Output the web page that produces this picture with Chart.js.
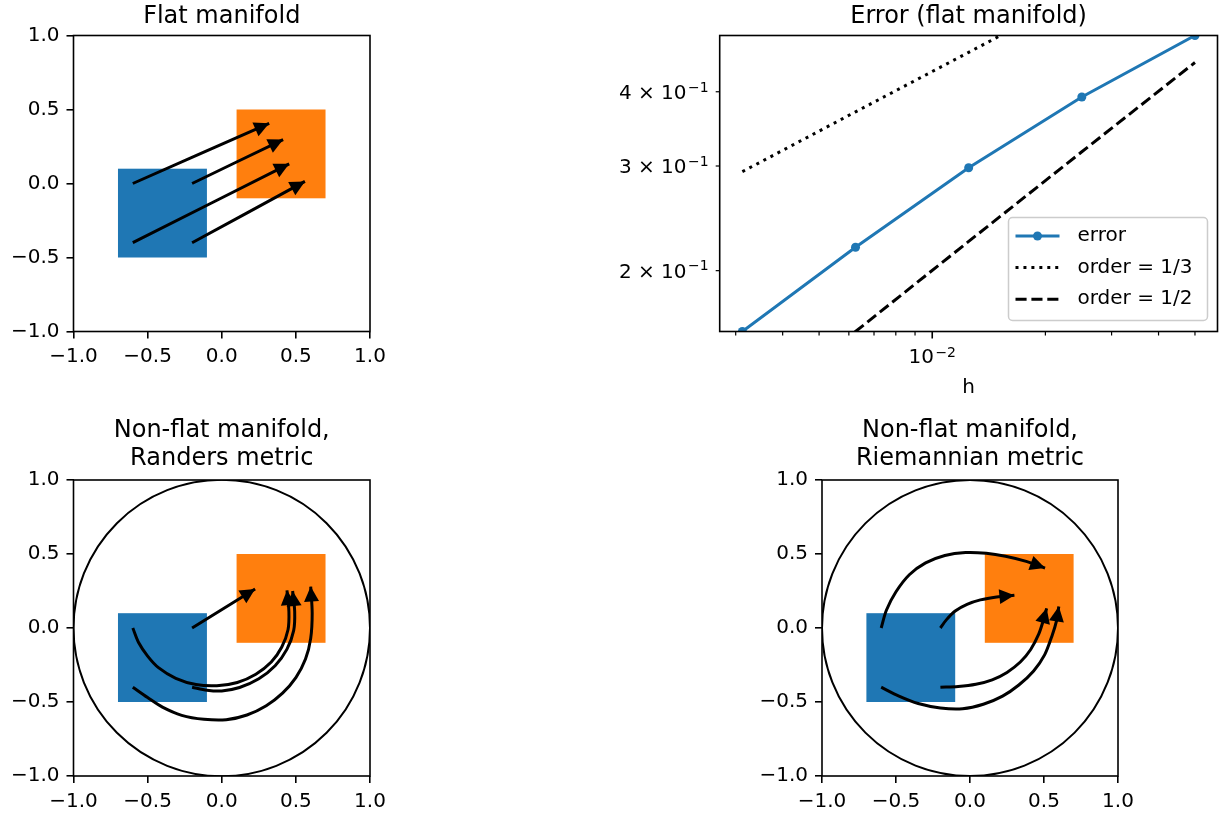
<!DOCTYPE html>
<html>
<head>
<meta charset="utf-8">
<script src="https://cdn.jsdelivr.net/npm/chart.js@4.4.1/dist/chart.umd.min.js"></script>
<style>
  html, body { margin: 0; padding: 0; background: #fff; }
  #fig { position: relative; width: 1222px; height: 813px; }
  #fig canvas { position: absolute; left: 0; top: 0; }
</style>
</head>
<body>
<div id="fig">
  <canvas id="flat" width="1222" height="813"></canvas>
  <canvas id="error" width="1222" height="813"></canvas>
  <canvas id="randers" width="1222" height="813"></canvas>
  <canvas id="riemann" width="1222" height="813"></canvas>
</div>
<script>
// ---- data -------------------------------------------------------------------
const axisTicks = [-1, -0.5, 0, 0.5, 1];
const axisTickLabels = ['\u22121.0', '\u22120.5', '0.0', '0.5', '1.0'];

// squares as [xmin, xmax, ymin, ymax]
const sourceSquare = [-0.7, -0.1, -0.5, 0.1];
const targetSquare = [0.1, 0.7, -0.1, 0.5];
// circle as [cx, cy, r]
const unitCircle = [0, 0, 1];

const flatArrows = [
  [[-0.6, 0], [0.32, 0.407]],
  [[-0.2, 0], [0.414, 0.297]],
  [[-0.6, -0.4], [0.455, 0.133]],
  [[-0.2, -0.4], [0.561, 0.014]],
];

const randersPaths = [
  [[-0.2, 0], [0.225, 0.264]],
  [[-0.6, 0], [-0.56, -0.1], [-0.5, -0.19], [-0.427, -0.268], [-0.31, -0.34], [-0.174, -0.382],
   [-0.033, -0.39], [0.105, -0.368], [0.23, -0.312], [0.334, -0.23], [0.405, -0.128],
   [0.447, -0.012], [0.453, 0.11], [0.44, 0.255]],
  [[-0.2, -0.4], [-0.1, -0.42], [0.0, -0.425], [0.12, -0.402], [0.25, -0.343], [0.36, -0.255],
   [0.44, -0.143], [0.485, -0.018], [0.492, 0.11], [0.478, 0.25]],
  [[-0.6, -0.4], [-0.5, -0.47], [-0.4, -0.535], [-0.27, -0.59], [-0.12, -0.617], [0.03, -0.62],
   [0.17, -0.588], [0.3, -0.525], [0.41, -0.44], [0.5, -0.335], [0.565, -0.21], [0.6, -0.07],
   [0.61, 0.1], [0.6, 0.28]],
];

const riemannPaths = [
  [[-0.6, 0], [-0.565, 0.12], [-0.5, 0.245], [-0.41, 0.36], [-0.3, 0.44], [-0.17, 0.49],
   [-0.03, 0.51], [0.11, 0.505], [0.24, 0.485], [0.38, 0.45], [0.507, 0.405]],
  [[-0.2, 0], [-0.16, 0.055], [-0.1, 0.115], [-0.02, 0.16], [0.07, 0.19], [0.18, 0.21], [0.3, 0.222]],
  [[-0.6, -0.4], [-0.48, -0.46], [-0.35, -0.51], [-0.2, -0.54], [-0.05, -0.545], [0.09, -0.515],
   [0.22, -0.46], [0.33, -0.385], [0.43, -0.29], [0.505, -0.18], [0.555, -0.05], [0.585, 0.05],
   [0.6, 0.145]],
  [[-0.2, -0.4], [-0.08, -0.395], [0.04, -0.38], [0.15, -0.35], [0.25, -0.3], [0.34, -0.23],
   [0.41, -0.145], [0.465, -0.04], [0.495, 0.05], [0.518, 0.133]],
];

const hValues = [0.003125, 0.00625, 0.0125, 0.025, 0.05];
const errorValues = [0.158, 0.219, 0.298, 0.392, 0.4974];
const orderThirdValues = [0.2935, 0.370, 0.466, 0.587, 0.740];
const orderHalfValues = [0.112, 0.158, 0.224, 0.317, 0.448];

const hRange = [0.00272, 0.0574];
const hTicks = [0.003, 0.004, 0.005, 0.006, 0.007, 0.008, 0.009, 0.01, 0.02, 0.03, 0.04, 0.05];
const hTickLabels = ['', '', '', '', '', '', '', '10^\u22122', '', '', '', ''];
const hMajorTicks = [0.01];
const errTicks = [0.2, 0.3, 0.4];
const errTickLabels = ['2 \u00D7 10^\u22121', '3 \u00D7 10^\u22121', '4 \u00D7 10^\u22121'];

const BLUE = '#1f77b4';
const ORANGE = '#ff7f0e';
const FONT = "'DejaVu Sans'";

Chart.defaults.font.family = FONT;
Chart.defaults.font.size = 20;
Chart.defaults.color = '#000';

// ---- plugins ----------------------------------------------------------------

// squares + circle under the datasets, arrow heads on top
const manifoldPlugin = {
  id: 'manifold',
  beforeDatasetsDraw(chart) {
    const o = chart.options.plugins.manifold;
    if (!o || !o.squares) return;
    const { ctx, chartArea: a, scales: { x, y } } = chart;
    ctx.save();
    ctx.beginPath();
    ctx.rect(a.left, a.top, a.width, a.height);
    ctx.clip();
    for (const sq of o.squares) {
      const [x0, x1, y0, y1] = sq.box;
      const l = x.getPixelForValue(x0), r = x.getPixelForValue(x1);
      const t = y.getPixelForValue(y1), b = y.getPixelForValue(y0);
      ctx.fillStyle = sq.color;
      ctx.fillRect(l, t, r - l, b - t);
    }
    if (o.circle) {
      const [cx, cy, rad] = o.circle;
      const pr = x.getPixelForValue(cx + rad) - x.getPixelForValue(cx);
      ctx.beginPath();
      ctx.arc(x.getPixelForValue(cx), y.getPixelForValue(cy), pr, 0, Math.PI * 2);
      ctx.lineWidth = 2;
      ctx.strokeStyle = '#000';
      ctx.stroke();
    }
    ctx.restore();
  },
  afterDatasetsDraw(chart) {
    const { ctx } = chart;
    ctx.save();
    chart.data.datasets.forEach((ds, i) => {
      if (!ds.arrowHead) return;
      const pts = chart.getDatasetMeta(i).data;
      const tip = pts[pts.length - 1], prev = pts[pts.length - 2];
      const ang = Math.atan2(tip.y - prev.y, tip.x - prev.x);
      const len = 15, half = 7.5;
      const bx = tip.x - len * Math.cos(ang), by = tip.y - len * Math.sin(ang);
      ctx.beginPath();
      ctx.moveTo(tip.x, tip.y);
      ctx.lineTo(bx + half * Math.sin(ang), by - half * Math.cos(ang));
      ctx.lineTo(bx - half * Math.sin(ang), by + half * Math.cos(ang));
      ctx.closePath();
      ctx.fillStyle = '#000';
      ctx.fill();
    });
    ctx.restore();
  },
};

// axes frame (all four spines)
const framePlugin = {
  id: 'frame',
  afterDraw(chart) {
    const { ctx, chartArea: a } = chart;
    ctx.save();
    ctx.strokeStyle = '#000';
    ctx.lineWidth = 1.6;
    ctx.strokeRect(a.left, a.top, a.width, a.height);
    ctx.restore();
  },
};

// titles above the axes, optional x label
const panelTitlePlugin = {
  id: 'panelTitle',
  afterDraw(chart) {
    const o = chart.options.plugins.panelTitle;
    if (!o || !o.lines) return;
    const { ctx, chartArea: a } = chart;
    const cx = (a.left + a.right) / 2;
    ctx.save();
    ctx.fillStyle = '#000';
    ctx.textAlign = 'center';
    ctx.textBaseline = 'alphabetic';
    ctx.font = `24px ${FONT}`;
    const n = o.lines.length;
    o.lines.forEach((t, i) => ctx.fillText(t, cx, a.top - o.gap - (n - 1 - i) * o.lineHeight));
    if (o.xLabel) {
      ctx.font = `20px ${FONT}`;
      ctx.fillText(o.xLabel, cx, a.bottom + o.xLabelGap);
    }
    ctx.restore();
  },
};

// draws "base^exp" with a raised, smaller exponent
function drawPowerLabel(ctx, text, x, baseline, align, rise) {
  const [base, exp] = text.split('^');
  ctx.font = `20px ${FONT}`;
  const wb = ctx.measureText(base).width;
  ctx.font = `14px ${FONT}`;
  const we = exp ? ctx.measureText(exp).width : 0;
  const total = wb + (exp ? 1.5 + we : 0);
  const left = align === 'right' ? x - total : x - total / 2;
  ctx.textAlign = 'left';
  ctx.textBaseline = 'alphabetic';
  ctx.font = `20px ${FONT}`;
  ctx.fillText(base, left, baseline);
  if (exp) {
    ctx.font = `14px ${FONT}`;
    ctx.fillText(exp, left + wb + 1.5, baseline - rise);
  }
}

// matplotlib-like major/minor tick marks and mathtext-like labels for the log axes
const logTicksPlugin = {
  id: 'logTicks',
  afterDraw(chart) {
    const o = chart.options.plugins.logTicks;
    if (!o || !o.xMajor) return;
    const { ctx, chartArea: a, scales: { x, y } } = chart;
    ctx.save();
    ctx.strokeStyle = '#000';
    ctx.fillStyle = '#000';
    x.ticks.forEach((t, i) => {
      const major = o.xMajor.includes(t.value);
      const p = x.getPixelForValue(t.value);
      ctx.lineWidth = major ? 1.6 : 1.2;
      ctx.beginPath();
      ctx.moveTo(p, a.bottom);
      ctx.lineTo(p, a.bottom + (major ? 7 : 4));
      ctx.stroke();
      if (o.xLabels[i]) drawPowerLabel(ctx, o.xLabels[i], p, a.bottom + 31.8, 'center', 6.5);
    });
    y.ticks.forEach((t, i) => {
      const p = y.getPixelForValue(t.value);
      ctx.lineWidth = 1.2;
      ctx.beginPath();
      ctx.moveTo(a.left, p);
      ctx.lineTo(a.left - 4, p);
      ctx.stroke();
      if (o.yLabels[i]) drawPowerLabel(ctx, o.yLabels[i], a.left - 11, p + 7.3, 'right', 7.5);
    });
    ctx.restore();
  },
};

// legend box in the lower right corner of the axes
const mplLegendPlugin = {
  id: 'mplLegend',
  afterDraw(chart) {
    const o = chart.options.plugins.mplLegend;
    if (!o || !o.show) return;
    const { ctx, chartArea: a } = chart;
    const w = 199, h = 103;
    const right = a.right - 10, bottom = a.bottom - 11;
    const left = right - w, top = bottom - h;
    ctx.save();
    ctx.beginPath();
    ctx.roundRect(left, top, w, h, 4);
    ctx.fillStyle = 'rgba(255,255,255,0.8)';
    ctx.fill();
    ctx.strokeStyle = '#cccccc';
    ctx.lineWidth = 1.5;
    ctx.stroke();
    chart.data.datasets.forEach((ds, i) => {
      const cy = top + 18.5 + i * 31.6;
      ctx.strokeStyle = ds.borderColor;
      ctx.lineWidth = ds.borderWidth;
      ctx.setLineDash(ds.borderDash || []);
      ctx.beginPath();
      ctx.moveTo(left + 7, cy);
      ctx.lineTo(left + 51, cy);
      ctx.stroke();
      ctx.setLineDash([]);
      if (ds.pointRadius) {
        ctx.beginPath();
        ctx.arc(left + 29, cy, ds.pointRadius, 0, Math.PI * 2);
        ctx.fillStyle = ds.borderColor;
        ctx.fill();
      }
      ctx.fillStyle = '#000';
      ctx.font = `20px ${FONT}`;
      ctx.textAlign = 'left';
      ctx.textBaseline = 'middle';
      ctx.fillText(ds.label, left + 69, cy);
    });
    ctx.restore();
  },
};

Chart.register(manifoldPlugin, framePlugin, panelTitlePlugin, logTicksPlugin, mplLegendPlugin);

// ---- helpers ----------------------------------------------------------------

function linearAxis(size, isX) {
  return {
    type: 'linear',
    min: axisTicks[0],
    max: axisTicks[axisTicks.length - 1],
    afterBuildTicks: s => { s.ticks = axisTicks.map(v => ({ value: v })); },
    ticks: {
      autoSkip: false,
      maxRotation: 0,
      padding: isX ? 6.5 : 7,
      callback: (v, i) => axisTickLabels[i],
    },
    grid: { drawOnChartArea: false, drawTicks: true, tickLength: 7, color: '#000', lineWidth: 1.6 },
    border: { display: false },
    afterFit: s => { if (isX) s.height = size; else s.width = size; },
  };
}

function pathDatasets(paths) {
  return paths.map(p => ({
    data: p.map(([x, y]) => ({ x, y })),
    showLine: true,
    tension: 0.3,
    borderColor: '#000',
    borderWidth: 3,
    pointRadius: 0,
    arrowHead: true,
  }));
}

function manifoldChart(id, paths, opts) {
  return new Chart(document.getElementById(id), {
    type: 'scatter',
    data: { datasets: pathDatasets(paths) },
    options: {
      responsive: false,
      animation: false,
      events: [],
      devicePixelRatio: 1,
      layout: { padding: opts.padding },
      scales: {
        x: linearAxis(opts.xH, true),
        y: linearAxis(opts.yW, false),
      },
      plugins: {
        legend: { display: false },
        tooltip: { enabled: false },
        manifold: {
          squares: [{ box: sourceSquare, color: BLUE }, { box: targetSquare, color: ORANGE }],
          circle: opts.circle ? unitCircle : null,
        },
        panelTitle: { lines: opts.title, gap: opts.titleGap, lineHeight: 28 },
      },
    },
  });
}

// ---- charts -----------------------------------------------------------------

manifoldChart('flat', flatArrows, {
  padding: { left: 0, right: 852, top: 35.5, bottom: 441.5 },
  xH: 40, yW: 73.5, circle: false,
  title: ['Flat manifold'], titleGap: 12.3,
});

manifoldChart('randers', randersPaths, {
  padding: { left: 0, right: 852, top: 480, bottom: 0 },
  xH: 37, yW: 73.5, circle: true,
  title: ['Non-flat manifold,', 'Randers metric'], titleGap: 15,
});

manifoldChart('riemann', riemannPaths, {
  padding: { left: 748.5, right: 104, top: 480, bottom: 0 },
  xH: 37, yW: 73.5, circle: true,
  title: ['Non-flat manifold,', 'Riemannian metric'], titleGap: 15,
});

const toPoints = vals => hValues.map((h, i) => ({ x: h, y: vals[i] }));

new Chart(document.getElementById('error'), {
  type: 'line',
  data: {
    datasets: [
      {
        label: 'error', data: toPoints(errorValues),
        borderColor: BLUE, backgroundColor: BLUE, borderWidth: 3,
        pointRadius: 4.5, pointBorderWidth: 0, pointBackgroundColor: BLUE, clip: 0,
      },
      {
        label: 'order = 1/3', data: toPoints(orderThirdValues),
        borderColor: '#000', borderWidth: 3, borderDash: [3, 4.95], pointRadius: 0, clip: 0,
      },
      {
        label: 'order = 1/2', data: toPoints(orderHalfValues),
        borderColor: '#000', borderWidth: 3, borderDash: [11.1, 4.8], pointRadius: 0, clip: 0,
      },
    ],
  },
  options: {
    responsive: false,
    animation: false,
    events: [],
    devicePixelRatio: 1,
    layout: { padding: { left: 600, right: 3.5, top: 35.5, bottom: 441.5 } },
    scales: {
      x: {
        type: 'logarithmic',
        min: hRange[0], max: hRange[1],
        afterBuildTicks: s => { s.ticks = hTicks.map(v => ({ value: v })); },
        ticks: { display: false, autoSkip: false, maxRotation: 0 },
        grid: { display: false, drawTicks: false },
        border: { display: false },
        afterFit: s => { s.height = 40; },
      },
      y: {
        type: 'logarithmic',
        min: Math.min(...errorValues), max: Math.max(...errorValues),
        afterBuildTicks: s => { s.ticks = errTicks.map(v => ({ value: v })); },
        ticks: { display: false, autoSkip: false },
        grid: { display: false, drawTicks: false },
        border: { display: false },
        afterFit: s => { s.width = 119.7; },
      },
    },
    plugins: {
      legend: { display: false },
      tooltip: { enabled: false },
      logTicks: { xMajor: hMajorTicks, xLabels: hTickLabels, yLabels: errTickLabels },
      mplLegend: { show: true },
      panelTitle: { lines: ['Error (flat manifold)'], gap: 12.3, lineHeight: 28, xLabel: 'h', xLabelGap: 61.5 },
    },
  },
});
</script>
</body>
</html>
